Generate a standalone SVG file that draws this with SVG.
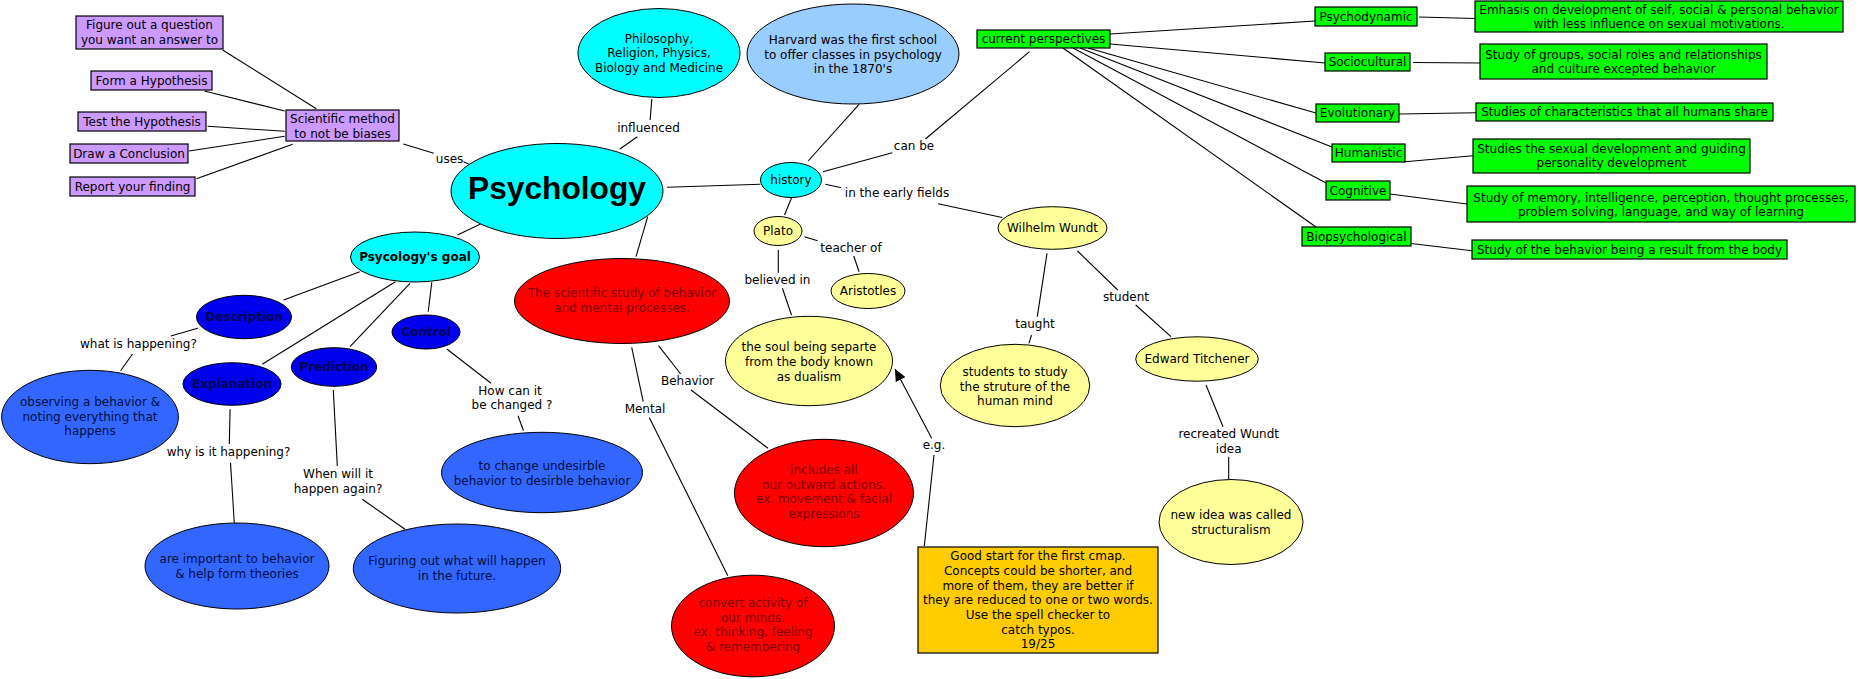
<svg xmlns="http://www.w3.org/2000/svg" width="1859" height="679" viewBox="0 0 1859 679">
<style>
text{font-family:"DejaVu Sans",Verdana,sans-serif;font-size:12px;text-anchor:middle;fill:#000}
.b{font-weight:bold}
.big{font-family:"Liberation Sans",Arial,sans-serif;font-size:32px;font-weight:bold}
.lk line{stroke:#000;stroke-width:1.1}
.pu{fill:#cc99ff;stroke:#000;stroke-width:1.2}
.gr{fill:#00ff00;stroke:#000;stroke-width:1.2}
.cy{fill:#00ffff;stroke:#000;stroke-width:1}
.lb{fill:#99ccff;stroke:#000;stroke-width:1}
.ye{fill:#ffff99;stroke:#000;stroke-width:1}
.re{fill:#ff0000;stroke:#000;stroke-width:1}
.db{fill:#0000ee;stroke:#000;stroke-width:1}
.mb{fill:#3366ff;stroke:#000;stroke-width:1}
.or{fill:#ffcc00;stroke:#000;stroke-width:1.2}
.rt{fill:#7a0000}
.dt{fill:#000050}
.bt{fill:#001040}
</style>
<defs>
<marker id="ah" markerUnits="userSpaceOnUse" markerWidth="13" markerHeight="11" refX="12" refY="5.5" orient="auto">
<path d="M0,0 L12,5.5 L0,11 z" fill="#000"/>
</marker>
</defs>
<g id="connectors" class="lk">
<line x1="222.6" y1="50" x2="316.3" y2="108.7"/>
<line x1="204.4" y1="91" x2="284.7" y2="111"/>
<line x1="207.6" y1="126.3" x2="284.7" y2="131.3"/>
<line x1="189" y1="151" x2="284.7" y2="136.3"/>
<line x1="196.5" y1="178.7" x2="292.6" y2="144.3"/>
<line x1="403.3" y1="144" x2="433.8" y2="153.3"/>
<line x1="463.4" y1="161.7" x2="468.6" y2="164"/>
<line x1="651.8" y1="99" x2="650.1" y2="120"/>
<line x1="637.3" y1="136.7" x2="619.9" y2="149"/>
<line x1="667.1" y1="187.3" x2="760.4" y2="184.3"/>
<line x1="647.7" y1="216.7" x2="636" y2="256.7"/>
<line x1="480.5" y1="224" x2="457.5" y2="235"/>
<line x1="859.1" y1="104.3" x2="808.1" y2="161"/>
<line x1="823" y1="171.7" x2="892.3" y2="152.7"/>
<line x1="925.4" y1="139" x2="1029.5" y2="51.7"/>
<line x1="825.3" y1="184.3" x2="841.3" y2="187.7"/>
<line x1="938" y1="203.7" x2="1002.2" y2="217.5"/>
<line x1="791.5" y1="198" x2="784.5" y2="215"/>
<line x1="804.4" y1="236.7" x2="817.6" y2="240.7"/>
<line x1="853.7" y1="256" x2="859.1" y2="271.7"/>
<line x1="778.3" y1="250" x2="778.3" y2="272.7"/>
<line x1="782.4" y1="288.3" x2="791.5" y2="315"/>
<line x1="1047" y1="253.3" x2="1037.3" y2="316.7"/>
<line x1="1031.5" y1="335" x2="1029" y2="343.3"/>
<line x1="1077.5" y1="251" x2="1117.7" y2="290"/>
<line x1="1135.7" y1="305" x2="1171" y2="336.7"/>
<line x1="1206" y1="385" x2="1223" y2="426.7"/>
<line x1="1228.7" y1="456.7" x2="1228.7" y2="479.5"/>
<line x1="658.5" y1="345.7" x2="680.7" y2="374"/>
<line x1="691" y1="390" x2="768" y2="448.3"/>
<line x1="631.7" y1="347.3" x2="643.2" y2="401.7"/>
<line x1="649.4" y1="417.7" x2="727.8" y2="575.7"/>
<line x1="924.3" y1="546" x2="934" y2="455"/>
<line x1="931.7" y1="438.3" x2="895" y2="369" marker-end="url(#ah)"/>
<line x1="359.8" y1="271.7" x2="283.5" y2="300"/>
<line x1="395.4" y1="281.7" x2="262.2" y2="364.3"/>
<line x1="410" y1="283.3" x2="350" y2="346.7"/>
<line x1="431.8" y1="282.3" x2="428.2" y2="311.7"/>
<line x1="197.7" y1="328.3" x2="170.8" y2="336"/>
<line x1="132.5" y1="354" x2="120.6" y2="370.7"/>
<line x1="230.1" y1="409.3" x2="229.3" y2="444"/>
<line x1="230.5" y1="462.7" x2="234.3" y2="523"/>
<line x1="333.3" y1="390" x2="337.3" y2="466"/>
<line x1="362.3" y1="499.3" x2="405" y2="529.3"/>
<line x1="446.8" y1="349" x2="491.1" y2="383.3"/>
<line x1="518" y1="415.7" x2="523.5" y2="430.7"/>
<line x1="1110" y1="34" x2="1315" y2="21"/>
<line x1="1110" y1="44" x2="1325" y2="63"/>
<line x1="1088" y1="48" x2="1316" y2="113"/>
<line x1="1080" y1="48" x2="1332" y2="147"/>
<line x1="1073" y1="48" x2="1326" y2="183"/>
<line x1="1063" y1="48" x2="1316" y2="227"/>
<line x1="1419" y1="17" x2="1475" y2="18.5"/>
<line x1="1413" y1="62.5" x2="1480" y2="63"/>
<line x1="1399" y1="114" x2="1476" y2="112.7"/>
<line x1="1405" y1="161.7" x2="1473" y2="155.7"/>
<line x1="1390" y1="194" x2="1467" y2="204"/>
<line x1="1411" y1="243.5" x2="1472" y2="250.7"/>
</g>
<g id="labels">
<text x="449.6" y="163">uses</text>
<text x="648.5" y="132">influenced</text>
<text x="914" y="150.3">can be</text>
<text x="897" y="197">in the early fields</text>
<text x="851" y="252">teacher of</text>
<text x="777.4" y="284.3">believed in</text>
<text x="1035" y="328.3">taught</text>
<text x="1126" y="301">student</text>
<text x="1228.7" y="438.3">recreated Wundt</text>
<text x="1228.7" y="452.6">idea</text>
<text x="934" y="449">e.g.</text>
<text x="687.6" y="385">Behavior</text>
<text x="645" y="413">Mental</text>
<text x="138.4" y="348.3">what is happening?</text>
<text x="228.5" y="456">why is it happening?</text>
<text x="338" y="478">When will it</text>
<text x="338" y="492.6">happen again?</text>
<text x="510" y="395">How can it</text>
<text x="512" y="409.3">be changed ?</text>
</g>
<g id="n-figure"><rect class="pu" x="76" y="16" width="147" height="33"/><text x="149.5" y="29.3">Figure out a question</text><text x="149.5" y="43.6">you want an answer to</text></g>
<g id="n-form"><rect class="pu" x="91" y="71" width="121" height="19"/><text x="151.5" y="85">Form a Hypothesis</text></g>
<g id="n-test"><rect class="pu" x="78" y="112" width="128" height="19"/><text x="142" y="126">Test the Hypothesis</text></g>
<g id="n-draw"><rect class="pu" x="70" y="144" width="118" height="19"/><text x="129" y="158">Draw a Conclusion</text></g>
<g id="n-report"><rect class="pu" x="70" y="177" width="125" height="19"/><text x="132.5" y="191">Report your finding</text></g>
<g id="n-method"><rect class="pu" x="286" y="110" width="113" height="31"/><text x="342.5" y="123.3">Scientific method</text><text x="342.5" y="138.3">to not be biases</text></g>
<g id="n-psychology"><ellipse class="cy" cx="557" cy="191" rx="106" ry="47.5"/><text class="big" x="557" y="199" textLength="178" lengthAdjust="spacingAndGlyphs">Psychology</text></g>
<g id="n-philosophy"><ellipse class="cy" cx="659" cy="53" rx="81" ry="44.5"/><text x="659" y="42.6">Philosophy,</text><text x="659" y="57">Religion, Physics,</text><text x="659" y="71.6">Biology and Medicine</text></g>
<g id="n-harvard"><ellipse class="lb" cx="853" cy="54" rx="106" ry="50"/><text x="853" y="44.3">Harvard was the first school</text><text x="853" y="58.6">to offer classes in psychology</text><text x="853" y="73.3">in the 1870's</text></g>
<g id="n-history"><ellipse class="cy" cx="791" cy="180" rx="30.5" ry="17.5"/><text x="791" y="184">history</text></g>
<g id="n-current"><rect class="gr" x="977" y="30" width="133" height="18"/><text x="1043.5" y="43.3">current perspectives</text></g>
<g id="n-plato"><ellipse class="ye" cx="778" cy="231" rx="24" ry="14.5"/><text x="778" y="235.3">Plato</text></g>
<g id="n-aristotles"><ellipse class="ye" cx="868" cy="291" rx="37" ry="17.5"/><text x="868" y="295.3">Aristotles</text></g>
<g id="n-soul"><ellipse class="ye" cx="809" cy="361" rx="83.5" ry="44.7"/><text x="809" y="351.3">the soul being separte</text><text x="809" y="366">from the body known</text><text x="809" y="380.6">as dualism</text></g>
<g id="n-wundt"><ellipse class="ye" cx="1052.5" cy="228" rx="54.5" ry="21.3"/><text x="1052.5" y="232.3">Wilhelm Wundt</text></g>
<g id="n-students"><ellipse class="ye" cx="1015" cy="385.5" rx="74.7" ry="41.2"/><text x="1015" y="376.3">students to study</text><text x="1015" y="391">the struture of the</text><text x="1015" y="405.3">human mind</text></g>
<g id="n-titchener"><ellipse class="ye" cx="1197" cy="359" rx="61.3" ry="22.2"/><text x="1197" y="363.3">Edward Titchener</text></g>
<g id="n-newidea"><ellipse class="ye" cx="1231" cy="522" rx="72" ry="42.5"/><text x="1231" y="519.3">new idea was called</text><text x="1231" y="533.8">structuralism</text></g>
<g id="n-scientific"><ellipse class="re" cx="622" cy="301" rx="107.5" ry="42.5"/><text class="rt" x="622" y="297">The scientific study of behavior</text><text class="rt" x="622" y="311.6">and mental processes.</text></g>
<g id="n-includes"><ellipse class="re" cx="824" cy="493" rx="89.5" ry="53.7"/><text class="rt" x="824" y="474.3">includes all</text><text class="rt" x="824" y="488.6">our outward actions.</text><text class="rt" x="824" y="503.3">ex. movement &amp; facial</text><text class="rt" x="824" y="518">expressions</text></g>
<g id="n-convert"><ellipse class="re" cx="753" cy="626" rx="81.5" ry="50.8"/><text class="rt" x="753" y="607">convert activity of</text><text class="rt" x="753" y="621.6">our minds.</text><text class="rt" x="753" y="636.3">ex. thinking, feeling</text><text class="rt" x="753" y="651">&amp; remembering</text></g>
<g id="n-comment"><rect class="or" x="918" y="547" width="240" height="106"/><text x="1038" y="560.3">Good start for the first cmap.</text><text x="1038" y="575">Concepts could be shorter, and</text><text x="1038" y="589.6">more of them, they are better if</text><text x="1038" y="604.3">they are reduced to one or two words.</text><text x="1038" y="619">Use the spell checker to</text><text x="1038" y="633.6">catch typos.</text><text x="1038" y="648">19/25</text></g>
<g id="n-goal"><ellipse class="cy" cx="415" cy="257" rx="64.5" ry="25"/><text class="b" x="415" y="261">Psycology's goal</text></g>
<g id="n-description"><ellipse class="db" cx="244" cy="317" rx="47.5" ry="21.7"/><text class="b dt" x="244" y="321">Description</text></g>
<g id="n-explanation"><ellipse class="db" cx="232" cy="384" rx="49" ry="21.3"/><text class="b dt" x="232" y="388">Explanation</text></g>
<g id="n-prediction"><ellipse class="db" cx="334" cy="367" rx="42.7" ry="19.3"/><text class="b dt" x="334" y="371.3">Prediction</text></g>
<g id="n-control"><ellipse class="db" cx="426" cy="332" rx="34" ry="17"/><text class="b dt" x="426" y="336.3">Control</text></g>
<g id="n-observing"><ellipse class="mb" cx="90" cy="417" rx="88.4" ry="46.7"/><text class="bt" x="90" y="406.3">observing a behavior &amp;</text><text class="bt" x="90" y="421">noting everything that</text><text class="bt" x="90" y="435.3">happens</text></g>
<g id="n-change"><ellipse class="mb" cx="542" cy="472.5" rx="100.5" ry="40.2"/><text class="bt" x="542" y="470.3">to change undesirble</text><text class="bt" x="542" y="485">behavior to desirble behavior</text></g>
<g id="n-important"><ellipse class="mb" cx="237" cy="566" rx="92" ry="43"/><text class="bt" x="237" y="563">are important to behavior</text><text class="bt" x="237" y="577.6">&amp; help form theories</text></g>
<g id="n-figuring"><ellipse class="mb" cx="457" cy="568.5" rx="103.7" ry="44.5"/><text class="bt" x="457" y="565.3">Figuring out what will happen</text><text class="bt" x="457" y="580">in the future.</text></g>
<g id="n-psychodynamic"><rect class="gr" x="1315" y="7" width="102" height="19"/><text x="1366" y="21">Psychodynamic</text></g>
<g id="n-sociocultural"><rect class="gr" x="1325" y="53" width="85" height="18"/><text x="1367.5" y="66.3">Sociocultural</text></g>
<g id="n-evolutionary"><rect class="gr" x="1316" y="104" width="83" height="18"/><text x="1357.5" y="117.3">Evolutionary</text></g>
<g id="n-humanistic"><rect class="gr" x="1332" y="144" width="73" height="18"/><text x="1368.5" y="157.3">Humanistic</text></g>
<g id="n-cognitive"><rect class="gr" x="1326" y="181" width="64" height="19"/><text x="1358" y="195">Cognitive</text></g>
<g id="n-biopsych"><rect class="gr" x="1302" y="227" width="109" height="19"/><text x="1356.5" y="241">Biopsychological</text></g>
<g id="n-emhasis"><rect class="gr" x="1475" y="1" width="368" height="31"/><text x="1659" y="14.3">Emhasis on development of self, social &amp; personal behavior</text><text x="1659" y="28.3">with less influence on sexual motivations.</text></g>
<g id="n-groups"><rect class="gr" x="1480" y="44" width="287" height="35"/><text x="1623.5" y="58.6">Study of groups, social roles and relationships</text><text x="1623.5" y="73.3">and culture excepted behavior</text></g>
<g id="n-characteristics"><rect class="gr" x="1476" y="103" width="297" height="18"/><text x="1624.5" y="116.3">Studies of characteristics that all humans share</text></g>
<g id="n-sexual"><rect class="gr" x="1473" y="139" width="277" height="34"/><text x="1611.5" y="152.6">Studies the sexual development and guiding</text><text x="1611.5" y="167">personality development</text></g>
<g id="n-memory"><rect class="gr" x="1467" y="186" width="388" height="36"/><text x="1661" y="201.5">Study of memory, intelligence, perception, thought processes,</text><text x="1661" y="216">problem solving, language, and way of learning</text></g>
<g id="n-body"><rect class="gr" x="1472" y="240" width="315" height="19"/><text x="1629.5" y="254">Study of the behavior being a result from the body</text></g>
</svg>
